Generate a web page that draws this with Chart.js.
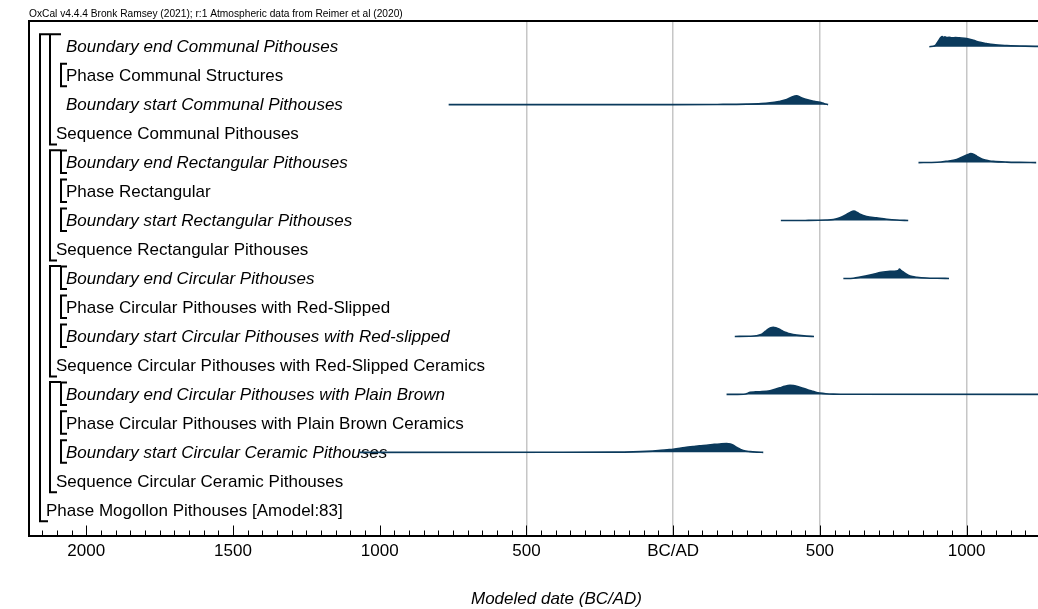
<!DOCTYPE html>
<html>
<head>
<meta charset="utf-8">
<script src="https://cdn.jsdelivr.net/npm/chart.js@4.4.0/dist/chart.umd.min.js"></script>
<style>
  html, body { margin: 0; padding: 0; background: #fff; overflow: hidden; }
  #wrap { width: 1090px; height: 609px; }
</style>
</head>
<body>
<div id="wrap"><canvas id="oxcal" width="1090" height="609"></canvas></div>
<script>
// rows, top to bottom
const rowLabels = [
    'Boundary end Communal Pithouses',
    'Phase Communal Structures',
    'Boundary start Communal Pithouses',
    'Sequence Communal Pithouses',
    'Boundary end Rectangular Pithouses',
    'Phase Rectangular',
    'Boundary start Rectangular Pithouses',
    'Sequence Rectangular Pithouses',
    'Boundary end Circular Pithouses',
    'Phase Circular Pithouses with Red-Slipped',
    'Boundary start Circular Pithouses with Red-slipped',
    'Sequence Circular Pithouses with Red-Slipped Ceramics',
    'Boundary end Circular Pithouses with Plain Brown',
    'Phase Circular Pithouses with Plain Brown Ceramics',
    'Boundary start Circular Ceramic Pithouses',
    'Sequence Circular Ceramic Pithouses',
    'Phase Mogollon Pithouses [Amodel:83]'
];
const rowDepth = [2, 2, 2, 1, 2, 2, 2, 1, 2, 2, 2, 1, 2, 2, 2, 1, 0];
const sequenceRows = [[0, 3], [4, 7], [8, 11], [12, 15]];
const bracketRows = [1, 4, 5, 6, 8, 9, 10, 12, 13, 14];

// x axis (calendar years, BC negative)
const tickValues = [-2000, -1500, -1000, -500, 0, 500, 1000];
const tickLabels = ['2000', '1500', '1000', '500', 'BC/AD', '500', '1000'];
const gridValues = [-500, 0, 500, 1000];

// posterior distributions (year, relative probability)
const endCommunalYears = [873, 892, 904, 912, 917, 921, 926, 932, 940, 950, 962, 975, 1000, 1023, 1046, 1068, 1091, 1137, 1200, 1300, 1400];
const endCommunalProb  = [0, 0.1, 0.6, 0.95, 1.05, 0.96, 1.02, 0.95, 0.97, 0.93, 0.95, 0.92, 0.85, 0.66, 0.45, 0.32, 0.21, 0.12, 0.06, 0.03, 0.02];

const startCommunalYears = [-765, 0, 150, 250, 300, 330, 360, 387, 405, 421, 435, 455, 480, 500, 515, 528];
const startCommunalProb  = [0, 0.005, 0.02, 0.05, 0.1, 0.18, 0.33, 0.53, 0.8, 0.92, 0.75, 0.53, 0.35, 0.24, 0.1, 0];

const endRectYears = [836, 900, 932, 966, 989, 1005, 1014, 1025, 1034, 1045, 1057, 1075, 1091, 1137, 1180, 1237];
const endRectProb  = [0, 0.03, 0.14, 0.32, 0.63, 0.85, 0.95, 0.85, 0.68, 0.48, 0.32, 0.2, 0.13, 0.05, 0.02, 0];

const startRectYears = [367, 450, 520, 546, 568, 591, 605, 616, 627, 637, 659, 693, 728, 762, 801];
const startRectProb  = [0, 0.01, 0.05, 0.1, 0.28, 0.63, 0.88, 0.98, 0.85, 0.66, 0.42, 0.28, 0.14, 0.05, 0];

const endCircularYears = [580, 614, 637, 671, 690, 705, 739, 760, 768, 771, 775, 784, 801, 815, 830, 864, 900, 940];
const endCircularProb  = [0, 0.03, 0.14, 0.35, 0.5, 0.63, 0.74, 0.78, 0.85, 0.98, 0.88, 0.68, 0.35, 0.2, 0.13, 0.05, 0.02, 0];

const startRedSlippedYears = [210, 260, 284, 300, 307, 315, 324, 333, 341, 350, 358, 366, 375, 386, 398, 421, 455, 480];
const startRedSlippedProb  = [0, 0.02, 0.07, 0.2, 0.35, 0.55, 0.77, 0.92, 0.95, 0.9, 0.81, 0.68, 0.53, 0.4, 0.28, 0.14, 0.03, 0];

const endPlainBrownYears = [182, 240, 255, 262, 280, 296, 330, 350, 364, 380, 398, 410, 421, 443, 460, 472, 486, 500, 520, 546, 600, 1400];
const endPlainBrownProb  = [0, 0.02, 0.12, 0.22, 0.26, 0.28, 0.38, 0.55, 0.68, 0.85, 0.95, 0.93, 0.85, 0.63, 0.47, 0.35, 0.22, 0.14, 0.07, 0.03, 0.01, 0];

const startCeramicYears = [-1069, -400, -200, -136, -90, -50, -20, 0, 23, 45, 68, 90, 114, 140, 159, 182, 195, 205, 215, 222, 230, 239, 262, 285, 307];
const startCeramicProb  = [0, 0.005, 0.02, 0.05, 0.1, 0.18, 0.27, 0.33, 0.42, 0.52, 0.6, 0.68, 0.74, 0.83, 0.88, 0.92, 0.88, 0.75, 0.55, 0.42, 0.3, 0.18, 0.07, 0.02, 0];

const distributions = [
    { row: 0,  years: endCommunalYears,     prob: endCommunalProb },
    { row: 2,  years: startCommunalYears,   prob: startCommunalProb },
    { row: 4,  years: endRectYears,         prob: endRectProb },
    { row: 6,  years: startRectYears,       prob: startRectProb },
    { row: 8,  years: endCircularYears,     prob: endCircularProb },
    { row: 10, years: startRedSlippedYears, prob: startRedSlippedProb },
    { row: 12, years: endPlainBrownYears,   prob: endPlainBrownProb },
    { row: 14, years: startCeramicYears,    prob: startCeramicProb }
];

const FONT = "'Liberation Sans', Arial, Helvetica, sans-serif";
const NAVY = '#0b3a5c';
const PEAK = 0.33; // peak height in row units

const datasets = distributions.map(d => ({
    label: rowLabels[d.row],
    data: d.years.map((yr, i) => ({ x: yr, y: d.row - d.prob[i] * PEAK })),
    borderColor: NAVY,
    backgroundColor: NAVY,
    borderWidth: 1.6,
    pointRadius: 0,
    cubicInterpolationMode: 'monotone',
    fill: { value: d.row }
}));

// minor ticks every 50 years
const allTicks = [];
for (let v = -2150; v <= 1400; v += 50) allTicks.push(v);

const oxcalDecor = {
    id: 'oxcalDecor',
    beforeDatasetsDraw(chart) {
        const ctx = chart.ctx;
        const xs = chart.scales.x, ys = chart.scales.y;
        const area = chart.chartArea;
        ctx.save();

        // header
        ctx.fillStyle = '#000';
        ctx.font = '10.2px ' + FONT;
        ctx.textBaseline = 'middle';
        ctx.textAlign = 'left';
        ctx.fillText('OxCal v4.4.4 Bronk Ramsey (2021); r:1 Atmospheric data from Reimer et al (2020)', 29, 14);

        // frame
        ctx.strokeStyle = '#000';
        ctx.lineWidth = 2;
        ctx.beginPath();
        ctx.moveTo(area.left, area.bottom);
        ctx.lineTo(area.left, area.top);
        ctx.lineTo(area.right, area.top);
        ctx.lineTo(area.right, area.bottom);
        ctx.stroke();

        // tick marks pointing up into the plot
        ctx.lineWidth = 1;
        ctx.beginPath();
        allTicks.forEach(v => {
            const x = Math.round(xs.getPixelForValue(v)) + 0.5;
            const len = v % 500 === 0 ? 10 : 5;
            ctx.moveTo(x, area.bottom);
            ctx.lineTo(x, area.bottom - len);
        });
        ctx.stroke();

        // row labels
        rowLabels.forEach((txt, i) => {
            const italic = txt.startsWith('Boundary');
            ctx.font = (italic ? 'italic ' : '') + '17px ' + FONT;
            ctx.fillText(txt, 46 + 10 * rowDepth[i], ys.getPixelForValue(i) + 1);
        });

        // brackets
        ctx.lineWidth = 2;
        ctx.beginPath();
        const p = i => ys.getPixelForValue(i);
        // outer phase
        ctx.moveTo(50, p(0) - 12.4);
        ctx.lineTo(40, p(0) - 12.4);
        ctx.lineTo(40, p(16) + 11);
        ctx.lineTo(48, p(16) + 11);
        // sequences
        sequenceRows.forEach(([a, b]) => {
            ctx.moveTo(61, p(a) - 12.4);
            ctx.lineTo(50, p(a) - 12.4);
            ctx.lineTo(50, p(b) + 11);
            ctx.lineTo(57, p(b) + 11);
        });
        // single items
        bracketRows.forEach(r => {
            ctx.moveTo(67, p(r) - 12);
            ctx.lineTo(61, p(r) - 12);
            ctx.lineTo(61, p(r) + 10.5);
            ctx.lineTo(67, p(r) + 10.5);
        });
        ctx.stroke();
        ctx.restore();
    }
};

new Chart(document.getElementById('oxcal'), {
    type: 'line',
    data: { datasets: datasets },
    options: {
        responsive: false,
        animation: false,
        layout: { padding: { left: 29, top: 21, right: 6, bottom: 0 } },
        plugins: { legend: { display: false }, tooltip: { enabled: false }, title: { display: false } },
        scales: {
            x: {
                type: 'linear',
                min: -2195,
                max: 1400,
                afterBuildTicks: scale => { scale.ticks = allTicks.map(v => ({ value: v })); },
                ticks: {
                    autoSkip: false,
                    maxRotation: 0,
                    padding: 5.9,
                    color: '#000',
                    font: { size: 17, family: FONT },
                    callback: v => {
                        const k = tickValues.indexOf(v);
                        return k >= 0 ? tickLabels[k] : '';
                    }
                },
                grid: {
                    drawTicks: false,
                    lineWidth: 1.5,
                    color: c => (c.tick && gridValues.includes(c.tick.value)) ? '#c6c6c6' : 'rgba(0,0,0,0)'
                },
                border: { display: true, color: '#000', width: 2 },
                title: {
                    display: true,
                    text: 'Modeled date (BC/AD)',
                    color: '#000',
                    font: { size: 17, style: 'italic', family: FONT },
                    padding: { top: 20.9, bottom: 0 }
                }
            },
            y: {
                type: 'linear',
                display: false,
                reverse: true,
                min: -0.886,
                max: 16.87
            }
        }
    },
    plugins: [oxcalDecor]
});
</script>
</body>
</html>
